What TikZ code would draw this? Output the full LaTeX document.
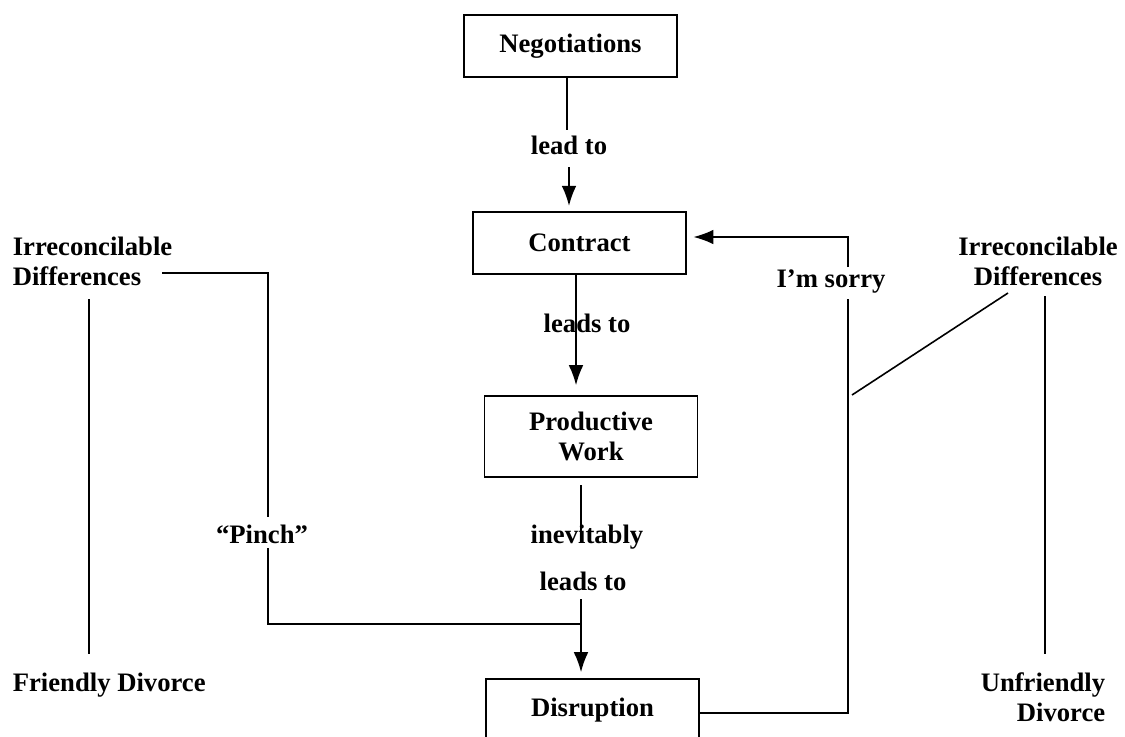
\documentclass[tikz,border=0pt]{standalone}
\usepackage{fontspec}
\setmainfont{Liberation Serif}
\usetikzlibrary{arrows.meta}
\tikzset{
  txt/.style={font=\bfseries\fontsize{20}{22.5}\selectfont, inner sep=0pt},
  box/.style={txt, draw, line width=1.2pt, minimum width=159.75pt, minimum height=46.5pt, align=center},
  lbl/.style={txt, anchor=base}
}
\begin{document}
\begin{tikzpicture}[x=0.75pt, y=-0.75pt, line width=1.2pt, >={Latex[length=15pt,width=11pt]}]
\clip (0,0) rectangle (1125,736);
% boxes
\node[box] (nego) at (570.5,46) {Negotiations};
\node[box] (contract) at (579.5,243) {Contract};
\node[box, minimum height=60.75pt] (work) at (591,436.5) {Productive\\Work};
\node[box] (disrupt) at (592.5,710) {Disruption};
% labels
\node[lbl] (leadto) at (569,154) {lead to};
\node[lbl] (leadsto) at (587,332) {leads to};
\node[lbl] (inev) at (587,543) {inevitably};
\node[lbl] (inevleads) at (583,590) {leads to};
\node[lbl] (pinch) at (262,543) {``Pinch''};
\node[lbl] (sorry) at (831,287) {I’m sorry};
\node[txt, align=left, anchor=north west] (irrleft) at (12,236.5) {Irreconcilable\\Differences};
\node[txt, align=center, anchor=north] (irrright) at (1038,236.5) {Irreconcilable\\Differences};
\node[lbl, anchor=base west] (friendly) at (12,691) {Friendly Divorce};
\node[txt, align=right, anchor=north east] (unfriendly) at (1106,672) {Unfriendly\\Divorce};
% main chain
\coordinate (n1) at (567,130);
\coordinate (n2) at (569,167);
\draw (nego.south -| n1) -- (n1);
\draw[->, shorten >=4pt] (n2) -- (n2 |- contract.north);
\coordinate (c1) at (576,274);
\draw[->, shorten >=7.5pt] (contract.south -| c1) -- (work.north -| c1);
\coordinate (w1) at (581,485);
\coordinate (w2) at (581,535);
\coordinate (w3) at (581,599);
\draw (w1) -- (w2);
\draw[->, shorten >=4.5pt] (w3) -- (w3 |- disrupt.north);
% pinch
\coordinate (p0) at (162,273);
\coordinate (p1) at (268,517);
\coordinate (p2) at (268,548);
\coordinate (p3) at (581,624);
\draw (p0) -| (p1);
\draw (p2) |- (p3);
% sorry
\coordinate (s1) at (848,299);
\coordinate (s2) at (848,267);
\coordinate (s3) at (848,237);
\draw ([yshift=-2.25pt]disrupt.east) -| (s1);
\draw[->, shorten >=5pt] (s2) -- (s3) -- (s3 -| contract.east);
% differences
\coordinate (d1) at (852,395);
\coordinate (d2) at (1008,293);
\draw (d1) -- (d2);
\coordinate (l1) at (89,299);
\coordinate (l2) at (89,654);
\draw (l1) -- (l2);
\coordinate (r1) at (1045,296);
\coordinate (r2) at (1045,654);
\draw (r1) -- (r2);
\end{tikzpicture}
\end{document}
